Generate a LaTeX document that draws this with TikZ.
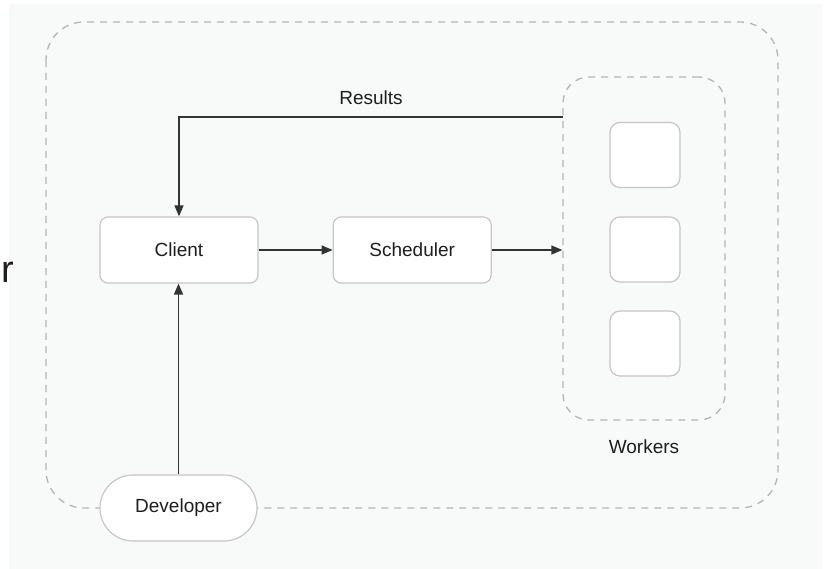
\documentclass[tikz,border=0pt]{standalone}
\usepackage{fontspec}
\setmainfont{Liberation Sans}
\usetikzlibrary{arrows.meta, positioning, calc}
\definecolor{PanelGray}{HTML}{F8F9F9}
\definecolor{EdgeGray}{HTML}{C6C6C6}
\definecolor{DashGray}{HTML}{B4B4B4}
\definecolor{InkGray}{HTML}{1E1E1E}
\definecolor{LineGray}{HTML}{333333}
\tikzset{
    % Default text
    every node/.style={font=\fontsize{19}{22}\selectfont, text=InkGray},
    % Component box
    box/.style={
        rectangle,
        rounded corners=8pt,
        draw=EdgeGray,
        line width=1.2pt,
        fill=white,
        minimum width=158pt,
        minimum height=66pt,
        align=center
    },
    % Worker slot
    slot/.style={
        rectangle,
        rounded corners=10pt,
        draw=EdgeGray,
        line width=1.2pt,
        fill=white,
        minimum width=70pt,
        minimum height=65pt
    },
    % Pill for the user
    pill/.style={
        rectangle,
        rounded corners=33pt,
        draw=EdgeGray,
        line width=1.2pt,
        fill=white,
        minimum width=157pt,
        minimum height=66pt
    },
    % Dashed group
    group/.style={
        rectangle,
        draw=DashGray,
        line width=1.3pt,
        dash pattern=on 7pt off 6pt
    },
    % Arrow style
    arrow/.style={
        -{Triangle[length=11pt, width=9pt]},
        line width=1.4pt,
        color=LineGray
    }
}
\begin{document}
\begin{tikzpicture}[x=1pt, y=-1pt]
        \useasboundingbox (0,0) rectangle (827,569);
        \fill[PanelGray] (9,4) rectangle (822,569);

        % Outer boundary
        \draw[group, rounded corners=38pt] (46,22) rectangle (778,508);

        % Workers group
        \node (workers) [group, rounded corners=26pt, minimum width=162pt, minimum height=343pt] at (644,248.5) {};
        \node (w1) [slot] at (645,155) {};
        \node (w2) [slot] at (645,249.5) {};
        \node (w3) [slot] at (645,343.5) {};
        \node (wlabel) at (644,447) {Workers};

        % Main components
        \node (client) [box] at (179,250) {Client};
        \node (sched) [box, right=74pt of client] {Scheduler};
        \node (dev) [pill] at (178.5,508) {Developer};
        \node (cut) [anchor=base west, inner sep=0pt, font=\fontsize{38}{40}\selectfont] at (1,283) {r};

        \coordinate (res) at (563,117);

        \draw [arrow] (dev) -- (dev |- client.south);
        \draw [arrow] (client) -- (sched);
        \draw [arrow] (sched.east) -- (workers.west |- sched.east);
        \draw [arrow] (res) -| node[pos=0.25, above=8pt] {Results} (client.north);
    \end{tikzpicture}
\end{document}
